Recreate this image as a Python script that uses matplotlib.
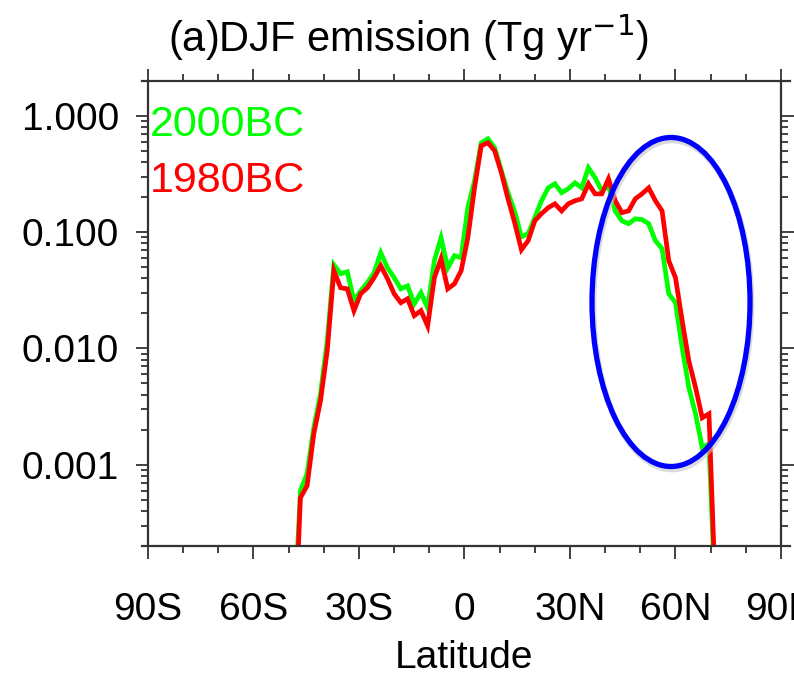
import matplotlib.pyplot as plt
from matplotlib.patches import Ellipse
from matplotlib.ticker import FixedLocator, MultipleLocator, LogLocator, NullFormatter

plt.rcParams['font.family'] = ['Liberation Sans', 'DejaVu Sans']

# zonal-mean DJF BC emission on the model's Gaussian latitudes
lat = [-48.57, -46.66, -44.76, -42.85, -40.95, -39.04, -37.14, -35.24, -33.33, -31.43,
       -29.52, -27.62, -25.71, -23.81, -21.90, -20.00, -18.09, -16.19, -14.28, -12.38,
       -10.48, -8.57, -6.67, -4.76, -2.86, -0.95, 0.95, 2.86, 4.76, 6.67,
       8.57, 10.48, 12.38, 14.28, 16.19, 18.09, 20.00, 21.90, 23.81, 25.71,
       27.62, 29.52, 31.43, 33.33, 35.24, 37.14, 39.04, 40.95, 42.85, 44.76,
       46.66, 48.57, 50.47, 52.38, 54.28, 56.19, 58.09, 60.00, 61.90, 63.80,
       65.71, 67.61, 69.52, 71.42]

bc_2000 = [3.8e-5, 6.0e-4, 8.4e-4, 2.08e-3, 4.07e-3, 0.0116, 0.0523, 0.0438, 0.0456, 0.0257,
           0.0313, 0.0367, 0.0447, 0.0664, 0.0493, 0.0405, 0.0325, 0.0345, 0.0242, 0.0301,
           0.0223, 0.0567, 0.0893, 0.0493, 0.0626, 0.0601, 0.162, 0.276, 0.586, 0.634,
           0.531, 0.337, 0.218, 0.150, 0.0911, 0.0967, 0.133, 0.186, 0.240, 0.260,
           0.218, 0.236, 0.265, 0.240, 0.357, 0.293, 0.227, 0.250, 0.152, 0.125,
           0.118, 0.130, 0.128, 0.118, 0.0842, 0.0719, 0.0295, 0.0247, 0.0101, 4.6e-3,
           2.74e-3, 1.40e-3, 1.51e-3, 6.0e-5]

bc_1980 = [2.0e-5, 5.2e-4, 6.6e-4, 1.85e-3, 3.54e-3, 9.5e-3, 0.0465, 0.0332, 0.0325, 0.0211,
           0.0295, 0.0332, 0.0405, 0.0513, 0.0397, 0.0295, 0.0247, 0.0267, 0.0191, 0.0211,
           0.0156, 0.0405, 0.0589, 0.0325, 0.0359, 0.0465, 0.0893, 0.240, 0.552, 0.586,
           0.500, 0.324, 0.193, 0.120, 0.0705, 0.0842, 0.125, 0.144, 0.162, 0.175,
           0.152, 0.175, 0.186, 0.193, 0.260, 0.213, 0.213, 0.287, 0.186, 0.147,
           0.152, 0.193, 0.213, 0.240, 0.186, 0.152, 0.0567, 0.0405, 0.0173, 7.8e-3,
           4.6e-3, 2.53e-3, 2.74e-3, 6.9e-5]

lat_ticks = [-90, -60, -30, 0, 30, 60, 90]
lat_labels = ['90S', '60S', '30S', '0', '30N', '60N', '90N']
y_ticks = [0.001, 0.01, 0.1, 1.0]
y_labels = ['0.001', '0.010', '0.100', '1.000']

green = '#00ff00'
red = '#ff0000'
fontsize = 28

fig = plt.figure(figsize=(7.94, 6.75), dpi=100)
ax = fig.add_axes([0.1864, 0.1911, 0.7972, 0.6893])

ax.plot(lat, bc_2000, color=green, lw=3.4, solid_joinstyle='miter')
ax.plot(lat, bc_1980, color=red, lw=3.4, solid_joinstyle='miter')

ax.set_yscale('log')
ax.set_xlim(-90, 90)
ax.set_ylim(2e-4, 2)

ax.xaxis.set_major_locator(FixedLocator(lat_ticks))
ax.set_xticklabels(lat_labels)
ax.xaxis.set_minor_locator(MultipleLocator(10))
ax.yaxis.set_major_locator(FixedLocator(y_ticks))
ax.set_yticklabels(y_labels)
ax.yaxis.set_minor_locator(LogLocator(base=10, subs=range(2, 10)))
ax.yaxis.set_minor_formatter(NullFormatter())

ax.tick_params(which='both', direction='out', top=True, right=True,
               width=1.3, color='#333333')
ax.tick_params(which='major', length=9)
ax.tick_params(which='minor', length=5)
ax.tick_params(axis='x', which='major', labelsize=fontsize, pad=24)
ax.tick_params(axis='y', which='major', labelsize=fontsize, pad=12)

for side in ax.spines:
    ax.spines[side].set_linewidth(1.6)
    ax.spines[side].set_color('#333333')
ax.spines['top'].set_bounds(-91.7, 92.6)
ax.spines['bottom'].set_bounds(-91.7, 92.6)

ax.set_xlabel('Latitude', fontsize=fontsize, labelpad=9)

fig.text(0.515, 0.945, '(a)DJF emission (Tg yr$^{-1}$)', fontsize=30,
         ha='center', va='center')

ax.text(0.003, 0.905, '2000BC', color=green, fontsize=31,
        transform=ax.transAxes, ha='left', va='center')
ax.text(0.003, 0.785, '1980BC', color=red, fontsize=31,
        transform=ax.transAxes, ha='left', va='center')

# highlight the northern mid-latitude difference
shadow = Ellipse((0.8466, 0.5486), 0.199, 0.4874, transform=fig.transFigure,
                 fill=False, lw=4.5, ec='#c4c4c4', alpha=0.6, zorder=5)
ring = Ellipse((0.8451, 0.5526), 0.199, 0.4874, transform=fig.transFigure,
               fill=False, lw=3.8, ec='#0000ff', zorder=6)
fig.patches.extend([shadow, ring])

fig.savefig('out.png', dpi=100)
